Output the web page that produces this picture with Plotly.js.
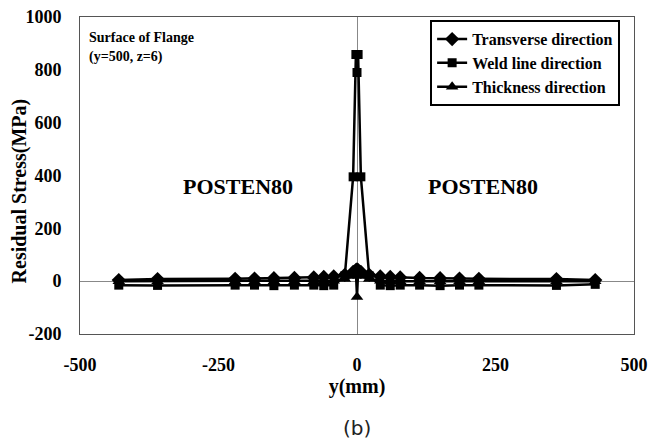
<!DOCTYPE html>
<html>
<head>
<meta charset="utf-8">
<script src="https://cdn.plot.ly/plotly-3.0.1.min.js"></script>
<style>html,body{margin:0;padding:0;background:#fff;}#chart{width:648px;height:442px;}</style>
</head>
<body>
<div id="chart"></div>
<script>
// Positions along y (mm)
var positions = [-430,-360,-220,-185,-150,-113,-78,-60,-42,-22,-7,-2,0,2,7,22,42,60,78,113,150,185,220,360,430];
// Residual stress (MPa)
var transverse = [4,8,9,10,11,12,14,16,18,24,35,42,45,42,35,24,18,16,14,12,11,10,9,8,4];
var weldLine   = [-15,-16,-15,-15,-17,-15,-15,-17,-15,20,395,858,790,858,395,20,-15,-17,-15,-15,-17,-15,-15,-16,-12];
var thickness  = [0,0,0,0,0,0,0,0,2,8,20,35,-60,35,20,8,2,0,0,0,0,0,0,0,0];
var seriesNames = ["Transverse direction","Weld line direction","Thickness direction"];
var xTickVals = [-500,-250,0,250,500];
var yTickVals = [-200,0,200,400,600,800,1000];

var serif = '"Liberation Serif", "Times New Roman", serif';
function tr(y, name, sym, size){
  return {x: positions, y: y, name: name, type:'scatter', mode:'lines+markers',
    line:{color:'#000', width:2.5}, marker:{symbol:sym, size:size, color:'#000'}};
}
var data = [
  tr(transverse, seriesNames[0], 'diamond', 11),
  tr(weldLine, seriesNames[1], 'square', 9),
  tr(thickness, seriesNames[2], 'triangle-up', 11)
];
var layout = {
  width:648, height:442,
  margin:{l:80, r:14, t:17, b:108},
  paper_bgcolor:'#fff', plot_bgcolor:'#fff',
  showlegend:true,
  legend:{x:0.632, y:0.99, xanchor:'left', yanchor:'top', bgcolor:'#fff',
    bordercolor:'#000', borderwidth:2, itemwidth:30,
    font:{family:serif, size:16, color:'#000', weight:'bold'}},
  xaxis:{range:[-500,500], tickvals:xTickVals, ticktext:xTickVals.map(String),
    showgrid:false, zeroline:true, zerolinecolor:'#888', zerolinewidth:1,
    showline:true, mirror:true, linecolor:'#555', linewidth:1, ticks:'',
    ticklabelstandoff:14,
    tickfont:{family:serif, size:18, color:'#000', weight:'bold'},
    title:{text:'y(mm)', standoff:4, font:{family:serif, size:20, color:'#000', weight:'bold'}}},
  yaxis:{range:[-200,1000], tickvals:yTickVals, ticktext:yTickVals.map(String),
    showgrid:false, zeroline:true, zerolinecolor:'#888', zerolinewidth:1,
    showline:true, mirror:true, linecolor:'#555', linewidth:1, ticks:'',
    ticklabelstandoff:14,
    tickfont:{family:serif, size:18, color:'#000', weight:'bold'}},
  annotations:[
    {text:'Residual Stress(MPa)', xref:'paper', yref:'paper', x:-0.11, y:0.45, textangle:-90,
      showarrow:false, xanchor:'center', yanchor:'middle',
      font:{family:serif, size:20, color:'#000', weight:'bold'}},
    {text:'Surface of Flange', xref:'paper', yref:'paper', x:0.012, y:0.935, showarrow:false,
      xanchor:'left', yanchor:'middle', font:{family:serif, size:14, color:'#000', weight:'bold'}},
    {text:'(y=500, z=6)', xref:'paper', yref:'paper', x:0.012, y:0.875, showarrow:false,
      xanchor:'left', yanchor:'middle', font:{family:serif, size:14, color:'#000', weight:'bold'}},
    {text:'POSTEN80', xref:'x', yref:'paper', x:-215, y:0.465, showarrow:false,
      font:{family:serif, size:22, color:'#000', weight:'bold'}},
    {text:'POSTEN80', xref:'x', yref:'paper', x:228, y:0.465, showarrow:false,
      font:{family:serif, size:22, color:'#000', weight:'bold'}},
    {text:'(b)', xref:'paper', yref:'paper', x:0.5, y:-0.298, showarrow:false,
      xanchor:'center', yanchor:'middle', font:{family:'DejaVu Sans, sans-serif', size:20, color:'#222'}}
  ]
};
Plotly.newPlot('chart', data, layout, {staticPlot:true, displayModeBar:false});
</script>
</body>
</html>
